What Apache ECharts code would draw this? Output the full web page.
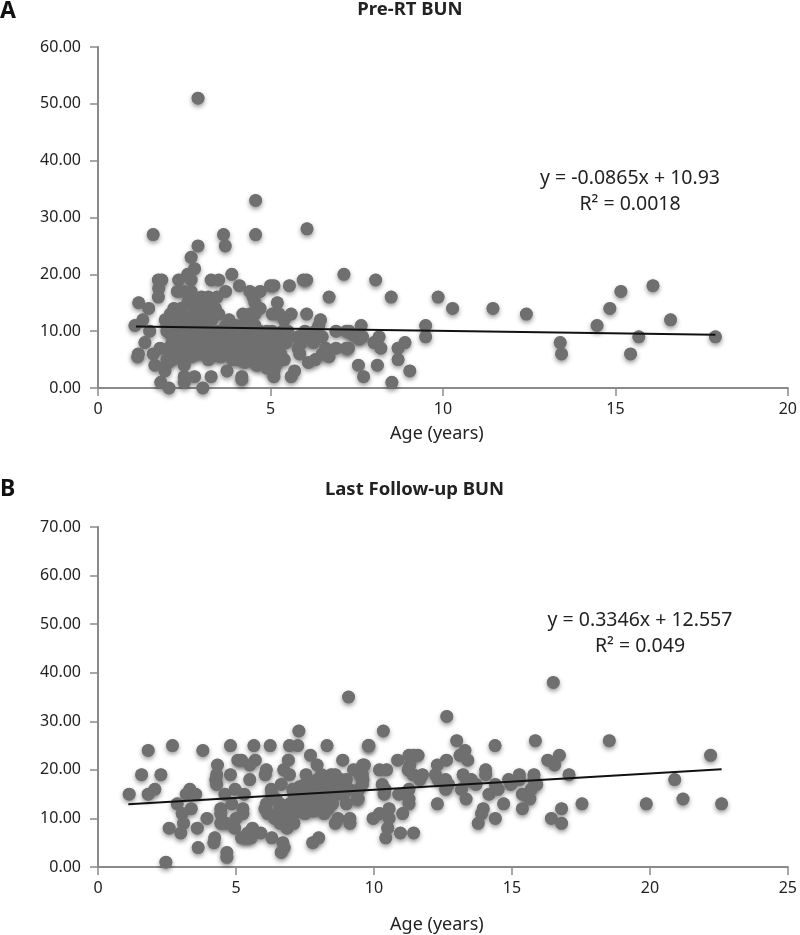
<!DOCTYPE html>
<html><head><meta charset="utf-8">
<style>html,body{margin:0;padding:0;background:#fff}#c{width:800px;height:935px}</style>
<script src="https://cdn.jsdelivr.net/npm/echarts@6/dist/echarts.min.js"></script>
</head><body><div id="c"></div>
<script>
const preRtPoints = [
[2.9,51],[4.57,33],[1.6,27],[3.64,27],[4.57,27],[6.06,28],[2.9,25],[3.69,25],[2.7,23],[2.8,21],[2.6,20],[2.7,19],[3.88,20],[1.75,19],[1.85,19],[2.34,19],[3.28,19],[3.5,19],[1.76,17.5],[1.75,16],[1.18,15],[1.47,14],[1.3,12],[1.07,11],[1.5,10],[1.36,8],[1.17,6],[1.15,5.5],[1.6,6],[1.65,4],[1.8,7],[1.82,1],[2.06,0],[3.04,0],[2.5,1],[2.5,2],[2.8,2],[3.28,2],[3.74,3],[4.17,2],[4.17,1.5],[5.1,2],[5.6,2],[5.7,3],[2.5,4],[1.94,3],[2,4.5],
[7.13,20],[8.05,19],[8.5,16],[9.86,16],[10.28,14],[11.45,14],[12.42,13],[13.4,8],[13.44,6],[14.47,11],[14.84,14],[15.16,17],[15.44,6],[15.68,9],[16.09,18],[16.6,12],[17.9,9],[9.5,11],[9.5,9],[8.9,8],[8.7,7],[8.7,5],[9.04,3],[8.52,1],[8.1,4],[7.7,2],[7.55,4],[7.26,7],[7.63,11],[8.15,9],[8,8],[8.2,7],[7.57,8.6],[7.28,10],[7.43,9.2],[7.67,9],
[2.3,17],[2.5,17],[2.7,17],[3,16],[3.2,16],[3.45,16],[3.7,17],[4.1,18],[4.4,17],[4.7,17],[5,18],[5.1,18],[5.55,18],[5.95,19],[6.05,19],[4.5,16],[4.55,15],[5.2,15],[6.7,16],
[2.2,14],[2.1,13],[1.95,12],[2.4,14],[2.6,15],[2.8,15],[3,14],[3.2,14],[3.4,14],[3.5,13],[2.75,13],[2.95,13],[3.15,13],[2.5,12],[2.4,12],[2.6,12],[3.2,12],[3.3,12],[2.3,11],[4.2,13],[4.4,13],[4.55,13],[3.8,12],[4.7,14],[5.05,13],[5.25,13],[5.4,12],[5.6,13],[6.05,13],[6.45,12],[6.4,11],[6.3,10],[6.5,9],[6.2,8.5],[5.8,9],[5.5,9],[5.45,8],[5.9,8],[5.8,7],[5.85,6],[5.4,5],
[2,11],[2,10],[2.1,10],[2.2,10],[2.4,10],[2.55,10],[2.7,11],[2.9,11.5],[3.05,11],[3.15,10],[3.3,10],[3.5,10],[3.7,11],[3.85,11],[4,11],[4.2,11],[4.4,11],[4.55,11],[4.7,10],[4.9,10],[5.05,10],[2.2,9],[2.35,9],[2.5,9],[2.7,9],[2.85,9],[3,9],[3.2,9],[3.35,9],[2.15,8],[2.3,8],[2.55,8],[2.7,8],[2.95,8],[3.1,8],[3.3,8],[2.05,7],[2.2,7],[2.5,7],[2.65,7],[2.9,7],[3.05,7],[2.1,6],[2.2,6],[2.55,6],[2.8,6],[3,6],[2,5],[2.15,5],[2.7,5.5],
[3.4,7],[3.45,6],[3.6,8],[3.75,7],[3.7,6],[3.55,5.5],[3.9,8],[4.05,7],[4,6],[3.9,5],[4.15,9],[4.3,8],[4.4,7],[4.2,6],[4.1,5],[4.25,4.5],[4.5,9],[4.6,8],[4.7,7],[4.55,6],[4.45,5],[4.65,4.5],[4.85,9],[5,8],[4.95,7],[4.8,6],[4.75,5],[4.6,4],[4.9,3.5],[5,4.5],[5.05,6],[5.15,7],[5.2,5],[5.15,4],[5.1,3],[4.95,8.5],[4.3,9.5],[4,9],
[3.5,9],[3.65,9],[3.8,9.5],[3.45,8],[3.75,8],[3.85,10],[4.1,10],[3.95,7],[4.55,10],[4.25,7],[3.25,6],[3.2,5],[4.8,8],[5.3,8],[5.25,9],[5.35,10],[5.5,10],[5.3,6],[2.4,5.5],[2.35,6.5],[2.85,10],[2.4,13],
[6.9,10],[7.2,10],[7.2,7],[6.9,7],[6.7,5.5],[6.5,6],[6.3,5],[6.25,8],[6.1,4.5],[6,10],[6.6,7]
];
const lastFollowupPoints = [
[9.08,35],[7.28,28],[1.82,24],[2.7,25],[3.8,24],[4.8,25],[5.65,25],[6.24,25],[6.94,25],[7.24,25],[8.3,25],[9.8,25],[7.7,23],[6.9,22],[7.94,21],[8.87,22],[4.33,21],[5.07,22],[5.2,22],[5.7,22],[5.5,21],[6.1,20],[6.73,20],[9.65,21],[9.26,20],[1.13,15],[1.58,19],[2.28,19],[1.82,15],[2.06,16],[2.87,13],[3.33,16],[3.2,15],[3.54,15],[3.38,12],[3.05,11],[3.1,9],[2.58,8],[3,7],[3.6,8],[3.95,10],[3.63,4],[2.46,1],[4.23,6],[4.2,5],[4.67,3],[4.67,2],[4.3,19],[4.27,18],[4.3,17],[4.8,19],[4.6,15],[4.97,16],[5.3,15],[4.85,13],[4.45,12],[4.45,11],[5.25,12],[5.25,11],[5,10],[4.45,9],[4.65,9],[4.95,8],[5.6,8],[5.2,6],[5.37,6],[5.55,6],[5.43,7],[5.9,7],[6.3,6],[5.5,18],[6.06,19],[6.28,16],[6.64,17],[7.06,16],[7.54,19],[6.94,19],[6.7,5],[6.64,3],[6.75,4],[7.78,5],[8,6],[8.7,10],[8.6,9],[9.13,10],[9.13,9],[9.4,14],[9,13],
[6.1,13],[6.05,12],[6.15,11],[6.3,15],[6.45,14],[6.6,13],[6.55,11.5],[6.4,10],[6.6,9],[6.85,8],[6.9,10],[6.75,12],[6.95,13],[7.1,15],[7.25,14],[7.4,13],[7.05,11],[7.1,9],[7.4,12],[7.6,15],[7.55,13],[7.5,11],[7.8,17],[7.95,18],[8.1,17],[8.2,15],[7.85,14],[8,13],[8.05,12],[7.8,11.5],[8.3,18],[8.45,19],[8.6,19],[8.5,17],[8.65,17],[8.4,16],[8.6,15],[8.3,14],[8.5,13],[8.35,12],[8.2,11],[8.75,16],[8.9,17],[8.8,18],[9,18],[9.1,16],[9.5,19],[9.6,18],[9.45,16],
[7.3,16.5],[7.5,17],[7.7,16],[8.1,19],[8.25,16],[8.9,15],[7.25,12],[7.7,14],
[10.55,12],[11.04,11],[10.2,11],[9.97,10],[10.55,10],[10.5,8],[10.43,6],[10.96,7],[11.44,7],
[16.5,38],[12.64,31],[10.34,28],[9.82,25],[13,26],[14.39,25],[15.85,26],[18.53,26],[22.2,23],[13.3,24],[13.12,23],[13.4,22],[12.63,22],[12.3,21],[10.86,22],[11.27,23],[11.44,23],[11.6,23],[11.3,21],[11.24,20],[11.42,19],[11.76,19],[11.66,18],[10.2,20],[10.46,20],[9.6,21],[9.58,19],[9.58,17],[10.3,17],[10.37,15],[10.4,16],[10.9,15],[11.27,16],[11.27,14],[11.27,13],[9.43,14],[12.3,13],[12.23,19],[12.33,18],[12.6,18],[12.7,17],[12.6,16],[13.17,16],[13.23,19],[13.35,18],[13.53,18],[13.7,17],[13.34,14],[14.05,20],[14.05,19],[14.17,15],[14.4,17],[14.5,16],[14.7,13],[14.88,18],[14.96,17],[15.27,19],[15.27,18],[15.38,15],[15.58,15],[15.65,14],[15.38,12],[15.8,19],[15.8,18],[15.9,17],[15.7,16],[16.3,22],[16.55,21],[16.72,23],[17.07,19],[17.54,13],[16.8,12],[16.43,10],[16.8,9],[19.87,13],[20.9,18],[21.2,14],[22.6,13],[13.96,12],[13.9,11],[13.78,9],[14.4,10]
];
const preRtTrend = [[1.1,10.84],[17.9,9.38]];
const lastFollowupTrend = [[1.1,12.92],[22.6,20.12]];
const titles = ['Pre-RT BUN','Last Follow-up BUN'];
const xName = 'Age (years)';
const eqA = 'y = -0.0865x + 10.93\nR² = 0.0018';
const eqB = 'y = 0.3346x + 12.557\nR² = 0.049';

const FONT = 'Noto Sans';
const axisLine = {show:true,onZero:false,lineStyle:{color:'#8a8a8a',width:2}};
const axisTick = {show:true,length:8,lineStyle:{color:'#8a8a8a',width:1.5}};
const lab = {color:'#222',fontFamily:FONT,fontSize:16};
function xAxis(i,max,gap){return {gridIndex:i,type:'value',min:0,max:max,interval:5,axisLine,axisTick,splitLine:{show:false},
  axisLabel:Object.assign({margin:13},lab),name:xName,nameLocation:'middle',nameGap:gap,
  nameTextStyle:{color:'#222',fontFamily:FONT,fontSize:18,padding:[0,12,0,0]}};}
function yAxis(i,max){return {gridIndex:i,type:'value',min:0,max:max,interval:10,axisLine,axisTick,splitLine:{show:false},
  axisLabel:Object.assign({margin:17,formatter:v=>v.toFixed(2)},lab)};}
// soft shadow layer underneath, flat discs on top so overlapping dots merge
function shadowLayer(i,d){return {type:'scatter',xAxisIndex:i,yAxisIndex:i,data:d,symbolSize:12.5,silent:true,
  itemStyle:{color:'#8a8a8a',opacity:1,shadowColor:'rgba(0,0,0,0.45)',shadowBlur:5,shadowOffsetY:2.5},z:1};}
function scatter(i,d){return {type:'scatter',xAxisIndex:i,yAxisIndex:i,data:d,symbolSize:13,silent:true,
  itemStyle:{color:'#6f6f6f',opacity:1},z:2};}
function trend(i,d){return {type:'line',xAxisIndex:i,yAxisIndex:i,data:d,showSymbol:false,symbol:'none',silent:true,
  lineStyle:{color:'#111',width:2},z:3};}
function ttl(text,x,y){return {text,left:x,top:y,padding:0,textAlign:'center',
  textStyle:{color:'#222',fontFamily:FONT,fontSize:18.5,fontWeight:'bold'}};}
function eq(text,x,y){return {text,left:x,top:y,padding:0,textAlign:'center',
  textStyle:{color:'#222',fontFamily:FONT,fontSize:19.5,fontWeight:'normal',lineHeight:25.5}};}

const chart = echarts.init(document.getElementById('c'),null,{renderer:'canvas'});
chart.setOption({
  animation:false,backgroundColor:'#fff',
  title:[
    ttl(titles[0],410,0),ttl(titles[1],414.5,480),
    {text:'A',left:0,top:0,padding:0,textStyle:{color:'#111',fontFamily:FONT,fontSize:23,fontWeight:'bold'}},
    {text:'B',left:0,top:478,padding:0,textStyle:{color:'#111',fontFamily:FONT,fontSize:23,fontWeight:'bold'}},
    eq(eqA,630,166),eq(eqB,640,608)
  ],
  grid:[{left:98,top:47,width:692,height:341},{left:98,top:527,width:692,height:341}],
  xAxis:[xAxis(0,20,37),xAxis(1,25,49)],
  yAxis:[yAxis(0,60),yAxis(1,70)],
  series:[shadowLayer(0,preRtPoints),scatter(0,preRtPoints),trend(0,preRtTrend),shadowLayer(1,lastFollowupPoints),scatter(1,lastFollowupPoints),trend(1,lastFollowupTrend)]
});
</script></body></html>
